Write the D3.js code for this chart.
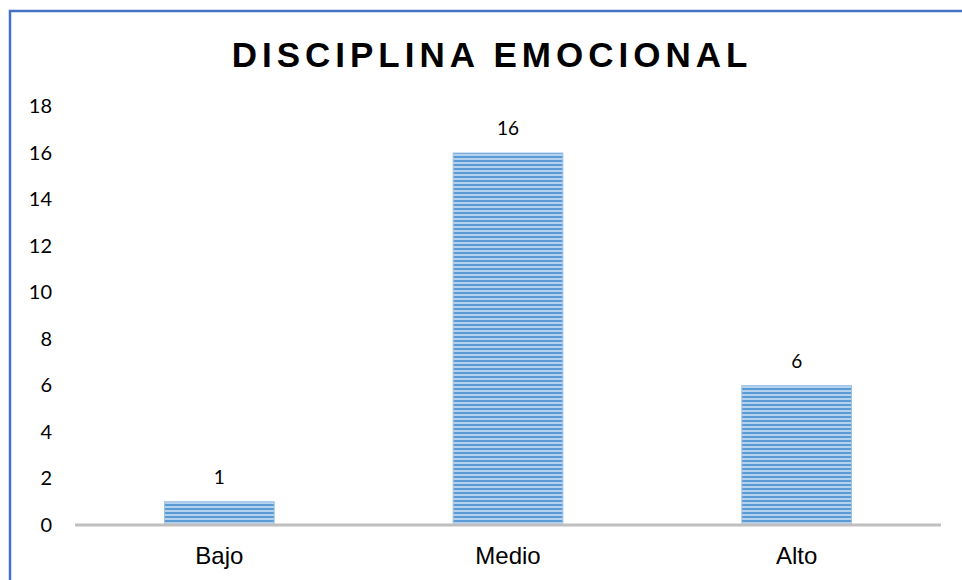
<!DOCTYPE html>
<html>
<head>
<meta charset="utf-8">
<script src="https://cdn.jsdelivr.net/npm/d3@7"></script>
<style>
  body { margin: 0; background: #fff; }
  svg { display: block; }
</style>
</head>
<body>
<svg></svg>
<script>
// Data

const categories = ['Bajo', 'Medio', 'Alto']
const values = [1, 16, 6]
const yTicks = [0, 2, 4, 6, 8, 10, 12, 14, 16, 18]
const title = 'DISCIPLINA EMOCIONAL'

const width = 962
const height = 580

const svg = d3.select('svg')
    .attr('width', width)
    .attr('height', height)

// Striped fill
const defs = svg.append('defs')
const pattern = defs.append('pattern')
    .attr('id', 'stripes')
    .attr('patternUnits', 'userSpaceOnUse')
    .attr('width', 8)
    .attr('height', 4)
pattern.append('rect')
    .attr('width', 8)
    .attr('height', 4)
    .attr('fill', '#b4d1ee')
pattern.append('rect')
    .attr('y', 0)
    .attr('width', 8)
    .attr('height', 2)
    .attr('fill', '#5b9bd5')

// Frame border (left and top)
svg.append('path')
    .attr('d', `M10,${height}V11H${width}`)
    .attr('fill', 'none')
    .attr('stroke', '#4472c4')
    .attr('stroke-width', 2.5)

// Title
svg.append('text')
    .attr('x', 492)
    .attr('y', 67)
    .attr('text-anchor', 'middle')
    .style('font-family', '"Liberation Sans", Arial, sans-serif')
    .style('font-weight', 'bold')
    .style('font-size', '35px')
    .style('letter-spacing', '5px')
    .text(title)

// Scales
const x = d3.scaleBand()
    .domain(categories)
    .range([75, 941])
    .paddingInner(0.62)
    .paddingOuter(0.31)

const y = d3.scaleLinear()
    .domain([0, 18])
    .range([525, 106.5])

// Y axis labels
const yAxis = svg.append('g')
    .attr('transform', 'translate(52,0)')
    .call(d3.axisLeft(y).tickValues(yTicks).tickSize(0).tickPadding(0))
yAxis.select('.domain').remove()
yAxis.selectAll('text')
    .style('font-family', 'Lato, "Open Sans", sans-serif')
    .style('font-size', '20px')
    .attr('fill', '#000')

// Bars
svg.append('g')
  .selectAll('rect')
  .data(values)
  .join('rect')
    .attr('x', (d, i) => x(categories[i]))
    .attr('y', d => y(d))
    .attr('width', x.bandwidth())
    .attr('height', d => y(0) - y(d))
    .attr('fill', 'url(#stripes)')
    .attr('stroke', '#9dc3e6')
    .attr('stroke-width', 1)

// Value labels
svg.append('g')
  .selectAll('text')
  .data(values)
  .join('text')
    .attr('x', (d, i) => x(categories[i]) + x.bandwidth() / 2)
    .attr('y', d => y(d) - 18)
    .attr('text-anchor', 'middle')
    .style('font-family', 'Lato, "Open Sans", sans-serif')
    .style('font-size', '19px')
    .text(d => d)

// Baseline
svg.append('line')
    .attr('x1', 75)
    .attr('x2', 941)
    .attr('y1', y(0))
    .attr('y2', y(0))
    .attr('stroke', '#bfbfbf')
    .attr('stroke-width', 3)

// Category labels
const xAxis = svg.append('g')
    .attr('transform', `translate(0,${y(0)})`)
    .call(d3.axisBottom(x).tickSize(0).tickPadding(22))
xAxis.select('.domain').remove()
xAxis.selectAll('text')
    .style('font-family', '"Liberation Sans", Arial, sans-serif')
    .style('font-size', '24px')
    .attr('fill', '#000')
</script>
</body>
</html>
